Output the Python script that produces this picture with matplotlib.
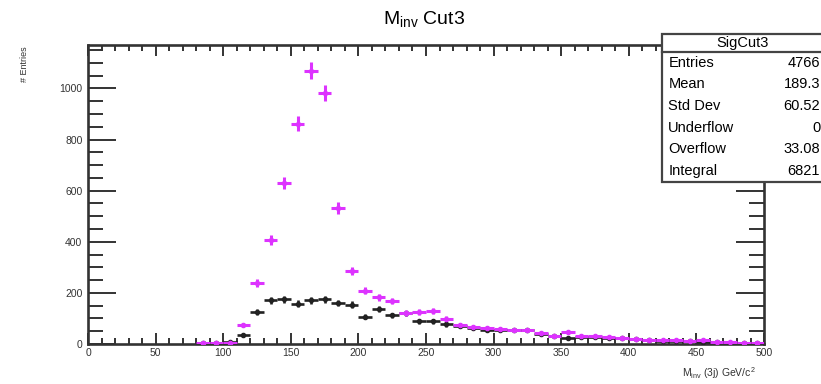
import matplotlib
matplotlib.use("Agg")
import matplotlib.pyplot as plt
import numpy as np
from matplotlib.ticker import MultipleLocator

plt.rcParams['font.family'] = ['Liberation Sans', 'DejaVu Sans']

# bin centres (GeV/c^2), 10 GeV bins
centers = [85, 95, 105, 115, 125, 135, 145, 155, 165, 175, 185, 195, 205, 215, 225,
           235, 245, 255, 265, 275, 285, 295, 305, 315, 325, 335, 345, 355, 365,
           375, 385, 395, 405, 415, 425, 435, 445, 455, 465, 475, 485, 495]
signal = [2, 3, 5, 74, 240, 407, 630, 861, 1070, 981, 532, 286, 209, 182, 168,
          122, 125, 130, 98, 75, 68, 62, 57, 55, 55, 42, 32, 48, 32,
          30, 26, 24, 20, 16, 14, 14, 12, 16, 8, 6, 4, 5]
background = [2, 3, 6, 35, 125, 171, 175, 158, 171, 175, 160, 154, 107, 136, 112,
              120, 89, 89, 77, 72, 62, 56, 55, 55, 54, 40, 30, 24, 28,
              26, 24, 22, 18, 16, 13, 11, 10, 8, 6, 5, 4, 5]
stat_names = ["Entries", "Mean", "Std Dev", "Underflow", "Overflow", "Integral"]
stat_values = ["4766", "189.3", "60.52", "0", "33.08", "6821"]

fig = plt.figure(figsize=(8.21, 3.84), dpi=100)
ax = fig.add_axes([0.1072, 0.1042, 0.8234, 0.7786])

c = np.array(centers, dtype=float)
s = np.array(signal, dtype=float)
b = np.array(background, dtype=float)

ax.errorbar(c, b, xerr=5, yerr=np.sqrt(b), fmt='o', color='#222222', ms=3,
            elinewidth=1.9, capsize=0, zorder=3)
ax.errorbar(c, s, xerr=5, yerr=np.sqrt(s), fmt='o', color='#dd33ff', ms=3,
            elinewidth=2.2, capsize=0, zorder=4)

ax.set_xlim(0, 500)
ax.set_ylim(0, 1170)
ax.xaxis.set_major_locator(MultipleLocator(50))
ax.xaxis.set_minor_locator(MultipleLocator(10))
ax.yaxis.set_major_locator(MultipleLocator(200))
ax.yaxis.set_minor_locator(MultipleLocator(50))
ax.tick_params(axis='both', which='both', direction='in', top=True, right=True,
               labelsize=7.5, colors='#333333', width=1.4)
ax.tick_params(axis='x', which='major', length=8, pad=3)
ax.tick_params(axis='x', which='minor', length=4)
ax.tick_params(axis='y', which='major', length=20, pad=4)
ax.tick_params(axis='y', which='minor', length=11)
for sp in ax.spines.values():
    sp.set_linewidth(1.9)
    sp.set_color('#333333')

fig.text(0.516, 0.948, r"M$_{\mathregular{inv}}$ Cut3", ha='center', va='center', fontsize=14)
fig.text(0.030, 0.878, "# Entries", rotation=90, ha='center', va='top', fontsize=6.5, color='#333333')
fig.text(0.921, 0.029, r"M$_{\mathregular{inv}}$ (3j) GeV/c$^{\mathregular{2}}$", ha='right',
         va='center', fontsize=7.5, color='#333333')

# stats box
bx0, by0, bx1, by1 = 0.806, 0.526, 1.02, 0.9115
hdr = 0.865
fig.patches.append(plt.Rectangle((bx0, by0), bx1 - bx0, by1 - by0, transform=fig.transFigure,
                                 facecolor='white', edgecolor='#444444', lw=1.6, zorder=10))
fig.lines.append(plt.Line2D([bx0, bx1], [hdr, hdr], transform=fig.transFigure,
                            color='#444444', lw=1.6, zorder=11))
fig.text(0.904, (by1 + hdr) / 2, "SigCut3", ha='center', va='center', fontsize=10.5, zorder=12)
row_h = (hdr - by0) / len(stat_names)
for i, (n, v) in enumerate(zip(stat_names, stat_values)):
    y = hdr - (i + 0.5) * row_h
    fig.text(bx0 + 0.008, y, n, ha='left', va='center', fontsize=10.5, zorder=12)
    fig.text(0.999, y, v, ha='right', va='center', fontsize=10.5, zorder=12)

fig.savefig("out.png", dpi=100)
